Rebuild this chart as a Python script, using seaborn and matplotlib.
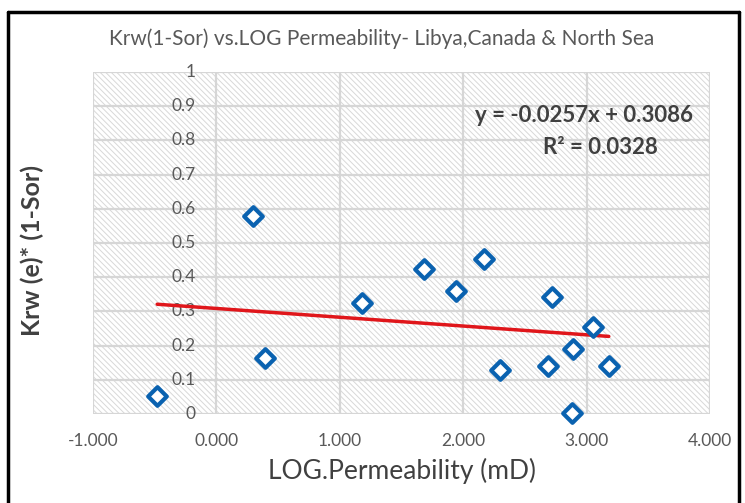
import matplotlib
matplotlib.use("Agg")
import matplotlib.pyplot as plt
import seaborn as sns
import numpy as np
import pandas as pd
from matplotlib.patches import Rectangle
from matplotlib.lines import Line2D

log_perm = [-0.48, 0.30, 0.39, 1.18, 1.68, 1.94, 2.17, 2.30, 2.69, 2.72, 2.88, 2.89, 3.05, 3.18]
krw = [0.052, 0.578, 0.164, 0.324, 0.424, 0.360, 0.452, 0.128, 0.140, 0.341, 0.002, 0.191, 0.255, 0.140]
slope = -0.0257
intercept = 0.3086
r2 = 0.0328
x_ticks = [-1, 0, 1, 2, 3, 4]
y_ticks = [0, 0.1, 0.2, 0.3, 0.4, 0.5, 0.6, 0.7, 0.8, 0.9, 1.0]
title = "Krw(1-Sor) vs.LOG Permeability- Libya,Canada & North Sea"
xlabel = "LOG.Permeability (mD)"
ylabel = "Krw (e)* (1-Sor)"

sns.set_theme(style="white")
plt.rcParams['font.family'] = ['Lato', 'DejaVu Sans']
plt.rcParams['hatch.linewidth'] = 0.7

df = pd.DataFrame({"x": log_perm, "y": krw})

fig = plt.figure(figsize=(7.45, 5.03), dpi=100)
ax = fig.add_axes([93/745, 1 - 414/503, (710-93)/745, (414-72)/503])

ax.set_xlim(-1, 4)
ax.set_ylim(0, 1)
ax.add_patch(Rectangle((0, 0), 1, 1, transform=ax.transAxes, facecolor='white',
                       edgecolor='#d8d8d8', linewidth=0, hatch='\\' * 6, zorder=0))
for yv in y_ticks:
    ax.axhline(yv, color='#d6d6d6', lw=1.6, zorder=1)
for xv in x_ticks:
    ax.axvline(xv, color='#d6d6d6', lw=1.6, zorder=1)
for s in ax.spines.values():
    s.set_visible(False)

# trendline
xs = np.array([min(log_perm), max(log_perm)])
ax.plot(xs, slope * xs + intercept, color='#e0161b', lw=2.5, zorder=3)

sns.scatterplot(data=df, x="x", y="y", ax=ax, marker='D', s=90,
                facecolor='white', edgecolor='#0a62b0', linewidth=3, zorder=4,
                clip_on=False)

ax.set_xticks(x_ticks)
ax.set_xticklabels([f"{v:.3f}" for v in x_ticks])
ax.set_yticks([])
ax.set_ylabel('')
ax.tick_params(axis='x', length=0, pad=14, labelsize=12.5, labelcolor='#595959')
for yv in y_ticks:
    ax.text(-0.17, yv, f"{yv:g}", ha='right', va='center', fontsize=12.5,
            color='#595959', zorder=2)

ax.set_xlabel(xlabel, fontsize=19, color='#404040', labelpad=6)
fig.text(32/745, 1 - 250/503, ylabel, rotation=90, ha='center', va='center',
         fontsize=18, fontweight='bold', color='#404040')
fig.text(382/745, 1 - 39/503, title, ha='center', va='center', fontsize=15,
         color='#595959')

ax.text(2.98, 0.872, f"y = {slope}x + {intercept}", ha='center', va='center',
        fontsize=16, fontweight='bold', color='#404040', zorder=5)
ax.text(3.11, 0.78, f"R² = {r2}", ha='center', va='center',
        fontsize=16, fontweight='bold', color='#404040', zorder=5)

# outer frame
fig.add_artist(Line2D([8/745, 8/745], [0, 1 - 12/503], color='black', lw=2.5))
fig.add_artist(Line2D([8/745, 739/745], [1 - 12/503, 1 - 12/503], color='black', lw=2.5))
fig.add_artist(Line2D([739/745, 739/745], [0, 1 - 12/503], color='black', lw=2.5))

fig.savefig("out.png", dpi=100)
